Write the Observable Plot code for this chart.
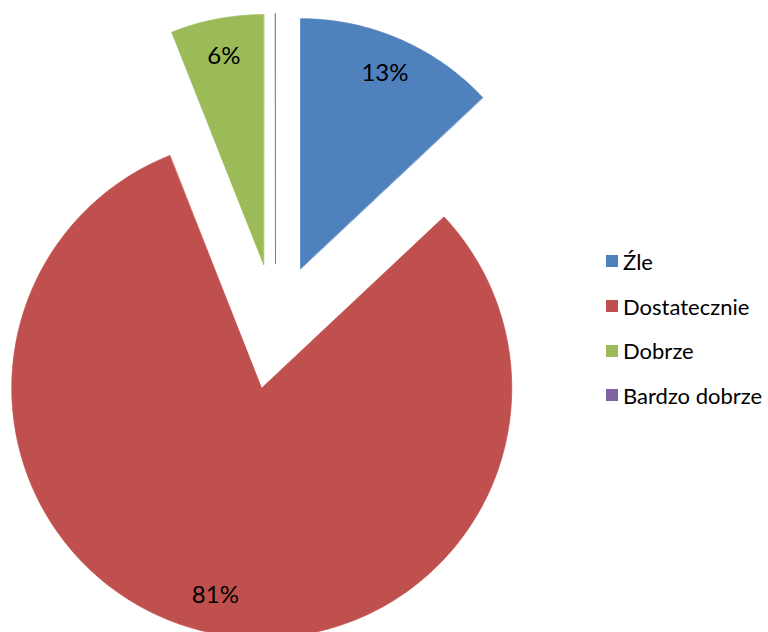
<!DOCTYPE html>
<html><head><meta charset="utf-8">
<script src="https://cdn.jsdelivr.net/npm/d3@7"></script>
<script src="https://cdn.jsdelivr.net/npm/@observablehq/plot@0.6"></script>
<style>
body{margin:0;background:#fff;font-family:Lato, "Open Sans", sans-serif;}
#wrap{position:relative;width:768px;height:632px;overflow:hidden;}
#chart{position:absolute;left:0;top:0;}
#legend{position:absolute;left:606px;top:239px;}
.item{display:flex;align-items:center;height:44.7px;font-size:22px;color:#000;white-space:nowrap;}
.sw{width:12px;height:12px;margin-right:5px;flex:none;}
</style></head><body><div id="wrap"><div id="chart"></div><div id="legend"></div></div>
<script>
const categories = ["Źle", "Dostatecznie", "Dobrze", "Bardzo dobrze"];
const values = [13, 81, 6, 0];
const labels = ["13%", "81%", "6%", ""];
const colors = ["#4F81BD", "#C0504D", "#9BBB59", "#8064A2"];

const R = 1, EXPLODE = 0.252, LABEL_R = 0.85;
const data = categories.map((c, i) => ({cat: c, value: values[i], label: labels[i]}));
const arcs = d3.pie().sort(null).value(d => d.value).startAngle(0).endAngle(2 * Math.PI)(data);

const points = [];
const labelData = [];
arcs.forEach(a => {
  const mid = (a.startAngle + a.endAngle) / 2;
  const ox = EXPLODE * Math.sin(mid), oy = EXPLODE * Math.cos(mid);
  points.push({cat: a.data.cat, x: ox, y: oy});
  const n = Math.max(1, Math.ceil((a.endAngle - a.startAngle) / (Math.PI / 180)));
  for (let k = 0; k <= n; k++) {
    const t = a.startAngle + (a.endAngle - a.startAngle) * k / n;
    points.push({cat: a.data.cat, x: ox + R * Math.sin(t), y: oy + R * Math.cos(t)});
  }
  if (a.data.label) labelData.push({label: a.data.label, x: ox + LABEL_R * R * Math.sin(mid), y: oy + LABEL_R * R * Math.cos(mid)});
});

const chart = Plot.plot({
  width: 600, height: 632, margin: 0,
  x: {domain: [-1.1, 1.3], axis: null},
  y: {domain: [-1.224, 1.304], axis: null},
  color: {domain: categories, range: colors},
  marks: [
    Plot.line(points, {x: "x", y: "y", z: "cat", fill: "cat", stroke: "cat", strokeWidth: 0.7, curve: "linear-closed"}),
    Plot.text(labelData, {x: "x", y: "y", text: "label", fontSize: 24, fontFamily: "Lato", fill: "black"})
  ]
});
document.getElementById("chart").appendChild(chart);

const legend = document.getElementById("legend");
categories.forEach((c, i) => {
  const it = document.createElement("div");
  it.className = "item";
  it.innerHTML = `<span class="sw" style="background:${colors[i]}"></span><span>${c}</span>`;
  legend.appendChild(it);
});
</script></body></html>
